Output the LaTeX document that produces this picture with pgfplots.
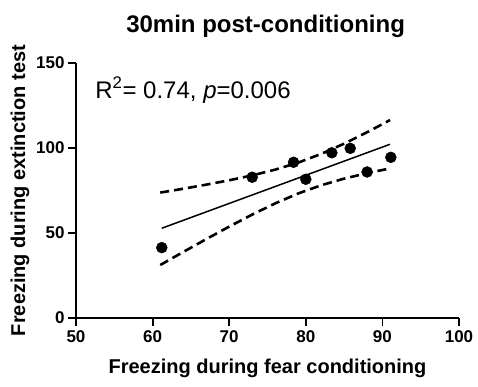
\documentclass[border=0pt]{standalone}
\usepackage{pgfplots}
\pgfplotsset{compat=1.18}
\usepackage{fontspec}
\setmainfont{Liberation Sans}
\begin{document}
\begin{tikzpicture}
\path[use as bounding box] (-76pt,-69pt) rectangle (402pt,318pt);
\begin{axis}[
  at={(0,0)}, anchor=south west,
  scale only axis, width=383pt, height=255pt,
  xmin=50, xmax=100, ymin=0, ymax=150,
  axis lines=left, axis line style={-, line width=1.8pt},
  xtick={50,60,70,80,90,100}, ytick={0,50,100,150},
  tick align=outside, major tick length=8pt,
  tick style={line width=1.8pt, black},
  /pgf/number format/assume math mode=true,
  ticklabel style={font=\bfseries\fontsize{17}{17}\selectfont},
  xticklabel style={yshift=-1pt},
  xlabel={Freezing during fear conditioning},
  ylabel={Freezing during extinction test},
  label style={font=\bfseries\fontsize{20}{20}\selectfont},
  xlabel style={at={(axis description cs:0.5,-0.196)}, anchor=center},
  ylabel style={at={(axis description cs:-0.146,0.5)}, anchor=center},
  clip=false,
]
% confidence bands
\addplot[black, line width=2.6pt, dash pattern=on 9pt off 5pt] coordinates {
 (61,73.77) (64,76.04) (67,78.43) (70,81.01) (73,83.89) (76,87.27)
 (79,91.39) (82,96.50) (85,102.54) (88,109.26) (91,116.43)};
\addplot[black, line width=2.6pt, dash pattern=on 9pt off 5pt] coordinates {
 (61,31.17) (64,38.84) (67,46.39) (70,53.77) (73,60.83) (76,67.41)
 (79,73.23) (82,78.06) (85,81.98) (88,85.20) (91,87.99)};
% regression line
\addplot[black, line width=1.5pt] coordinates {(61.2,52.8) (91.0,102.2)};
% data
\addplot[only marks, mark=*, mark size=5.5pt, black] coordinates {
 (61.2,41.4) (73.0,82.8) (78.4,91.6) (80.0,81.6) (83.4,97.2) (85.8,99.8) (88.0,85.9) (91.1,94.5)};
\node[anchor=base west, font=\fontsize{24}{24}\selectfont, inner sep=0pt] at (axis cs:52.5,129.4)
  {R\textsuperscript{2}= 0.74, \textit{p}=0.006};
\node[anchor=base, font=\bfseries\fontsize{24}{24}\selectfont, inner sep=0pt] at ([yshift=30pt]rel axis cs:0.495,1)
  {30min post-conditioning};
\end{axis}
\end{tikzpicture}
\end{document}
